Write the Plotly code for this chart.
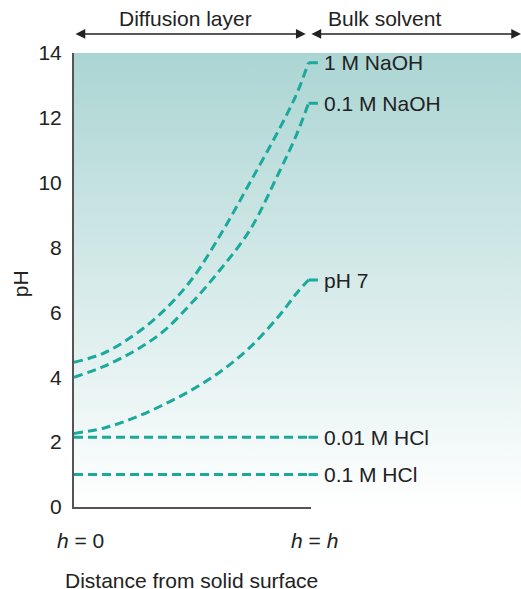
import plotly.graph_objects as go

# distance across the diffusion layer (0 = solid surface, 1 = h)
distance = [0, 0.125, 0.25, 0.375, 0.5, 0.625, 0.75, 0.875, 0.95, 1.0]

curve_names = ["1 M NaOH", "0.1 M NaOH", "pH 7"]
ph_1m_naoh = [4.46, 4.74, 5.27, 6.0, 7.0, 8.4, 10.0, 11.65, 12.75, 13.7]
ph_01m_naoh = [4.0, 4.33, 4.78, 5.38, 6.28, 7.33, 8.54, 10.33, 11.5, 12.45]
ph_neutral = [2.27, 2.43, 2.73, 3.13, 3.6, 4.18, 4.92, 5.9, 6.6, 7.0]

flat_names = ["0.01 M HCl", "0.1 M HCl"]
flat_values = [2.15, 1.0]
flat_distance = [0, 1.0]

y_ticks = [0, 2, 4, 6, 8, 10, 12, 14]

TEAL = "#1aa99b"
INK = "#222222"
AXIS = "#555555"
FONT = "Liberation Sans, Arial, sans-serif"
FS = 21
X_FULL = 1.906  # visible extent of the shaded region, same scale as the layer axis

fig = go.Figure()

# shaded background (layer + bulk solvent)
fig.add_trace(go.Scatter(
    x=[0, X_FULL, X_FULL, 0, 0], y=[0, 0, 14, 14, 0],
    xaxis="x2", yaxis="y", mode="lines", fill="toself",
    line=dict(width=0),
    fillgradient=dict(type="vertical",
                      colorscale=[[0, "#ffffff"], [1, "#abd5d3"]]),
    hoverinfo="skip", showlegend=False,
))

dash = dict(color=TEAL, width=3, dash="9px,5px")
ends = []
for name, vals in zip(curve_names, [ph_1m_naoh, ph_01m_naoh, ph_neutral]):
    fig.add_trace(go.Scatter(x=distance, y=vals, xaxis="x2", yaxis="y",
                             mode="lines", line=dict(shape="spline", **dash),
                             name=name, showlegend=False))
    ends.append(vals[-1])
for name, v in zip(flat_names, flat_values):
    fig.add_trace(go.Scatter(x=flat_distance, y=[v, v], xaxis="x2", yaxis="y",
                             mode="lines", line=dash, name=name, showlegend=False))
    ends.append(v)

# short solid leaders and labels
for name, v in zip(curve_names + flat_names, ends):
    fig.add_trace(go.Scatter(x=[1.0, 1.04], y=[v, v], xaxis="x2", yaxis="y",
                             mode="lines", line=dict(color=TEAL, width=3),
                             hoverinfo="skip", showlegend=False))
    fig.add_annotation(x=1.058, y=v, xref="x2", yref="y", text=name,
                       showarrow=False, xanchor="left", yanchor="middle",
                       font=dict(size=FS, color=INK, family=FONT))

# keeps the layer axis alive
fig.add_trace(go.Scatter(x=[], y=[], xaxis="x", yaxis="y", showlegend=False))

# double arrows on top (head x in axis units, tail as pixel offset)
for x0, x1, label, lx in [(0.0, 0.988, "Diffusion layer", 0.477),
                          (1.006, X_FULL, "Bulk solvent", 1.326)]:
    fig.add_annotation(x=x1, y=1.0419, xref="x2", yref="paper",
                       ax=-(x1 - x0) * 234.5, ay=0, axref="pixel",
                       ayref="pixel", text="", showarrow=True,
                       arrowhead=2, startarrowhead=2, arrowside="end+start",
                       arrowsize=1.3, startarrowsize=1.3, arrowwidth=1.5,
                       arrowcolor=INK, standoff=0, startstandoff=0)
    fig.add_annotation(x=lx, y=1.0749, xref="x2", yref="paper", text=label,
                       showarrow=False, xanchor="center", yanchor="middle",
                       font=dict(size=FS, color=INK, family=FONT))

# h labels and axis titles
for x, t in [(0, "<i>h</i> = 0"), (1, "<i>h</i> = <i>h</i>")]:
    fig.add_annotation(x=x, y=0, xref="x", yref="y", text=t, showarrow=False,
                       xshift=6, yshift=-33, xanchor="center", yanchor="middle",
                       font=dict(size=FS, color=INK, family=FONT))
fig.add_annotation(x=0.5, y=0, xref="x", yref="y", yshift=-73,
                   text="Distance from solid surface", showarrow=False,
                   xanchor="center", yanchor="middle",
                   font=dict(size=FS, color=INK, family=FONT))
fig.add_annotation(x=-0.121, y=6.9, xref="paper", yref="y", text="pH",
                   textangle=-90, showarrow=False, xanchor="center",
                   yanchor="middle",
                   font=dict(size=FS, color=INK, family=FONT))

fig.update_layout(
    width=521, height=589,
    margin=dict(l=74, r=0, t=53, b=82),
    paper_bgcolor="white", plot_bgcolor="rgba(0,0,0,0)",
    font=dict(family=FONT, size=FS, color=INK),
    xaxis=dict(domain=[0, 234.5 / 447], range=[0, 1], anchor="y",
               showline=True, linecolor=AXIS, linewidth=2,
               tickvals=[0.2, 0.6], ticks="inside", ticklen=20, tickwidth=1.5,
               tickcolor="#444", showticklabels=False, showgrid=False,
               zeroline=False,
               minor=dict(tickvals=[0.4, 0.8], ticks="inside", ticklen=10,
                          tickwidth=1.5, tickcolor="#444", showgrid=False)),
    xaxis2=dict(domain=[0, 1], range=[0, X_FULL], anchor="y", visible=False),
    yaxis=dict(range=[0, 14], anchor="x", showline=True, mirror=True,
               linecolor=AXIS, linewidth=2, tickvals=y_ticks, ticks="inside",
               ticklen=20, tickwidth=1.5, tickcolor="#444",
               ticklabelstandoff=6, showgrid=False, zeroline=False,
               tickfont=dict(size=FS, color=INK, family=FONT),
               minor=dict(dtick=1, ticks="inside", ticklen=10, tickwidth=1.5,
                          tickcolor="#444", showgrid=False)),
)

fig.write_html("out.html", config={"displayModeBar": False},
               post_script="document.body.style.margin='0px';")
